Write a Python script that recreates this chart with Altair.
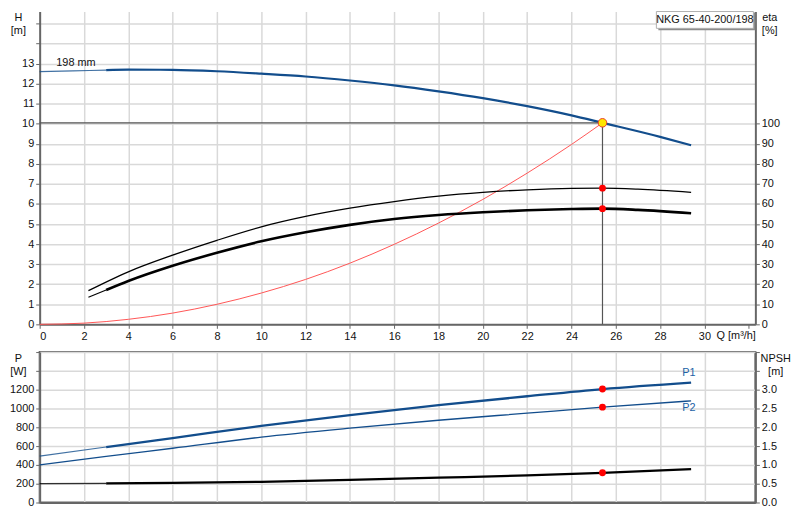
import altair as alt
import pandas as pd

# ---------------- data ----------------
Q_TICKS = list(range(0, 33, 2))
H_TICKS = list(range(0, 16))
ETA_TICKS = list(range(0, 101, 10))
P_TICKS = list(range(0, 1601, 200))
NPSH_TICKS = [0.0, 0.5, 1.0, 1.5, 2.0, 2.5, 3.0, 3.5, 4.0]

MODEL = "NKG 65-40-200/198"
IMPELLER = "198 mm"
IMPELLER_Q = 0.75
IMPELLER_H = 13.02
Q_UNIT = "Q [m³/h]"
Q_UNIT_Q = 30.55

H_Q = [0, 1.5, 3, 4, 6, 8, 10, 12, 14, 16, 18, 20, 22, 24, 25.4, 28, 29.4]
H_M = [12.6, 12.64, 12.68, 12.7, 12.69, 12.62, 12.5, 12.36, 12.16, 11.92,
       11.62, 11.28, 10.88, 10.42, 10.05, 9.35, 8.93]

SYS_Q = [0, 2, 4, 6, 8, 10, 12, 14, 16, 18, 20, 22, 24, 25.4]
SYS_H = [0, 0.06, 0.25, 0.56, 1.0, 1.56, 2.24, 3.05, 3.99, 5.05, 6.23, 7.54, 8.97, 10.05]

ETA1_Q = [2.2, 4, 6, 8, 10, 12, 14, 16, 18, 20, 22, 24, 25.4, 27, 29.4]
ETA1 = [16.8, 26.2, 34.5, 41.9, 48.6, 53.8, 57.9, 61.2, 63.9, 65.8, 67.1, 67.8, 67.9, 67.4, 65.8]

ETA2_Q = [2.2, 3, 4, 6, 8, 10, 12, 14, 16, 18, 20, 22, 24, 25.4, 27, 29.4]
ETA2 = [13.5, 17.1, 21.6, 29.2, 35.7, 41.4, 45.9, 49.6, 52.5, 54.5, 55.9, 56.9, 57.5, 57.7, 57.1, 55.4]

P_Q = [0, 3, 6, 10, 14, 18, 22, 25.4, 29.4]
P1_W = [493, 590, 685, 815, 930, 1035, 1130, 1207, 1276]
P2_W = [400, 490, 577, 695, 790, 875, 950, 1014, 1081]
NPSH_M = [0.5, 0.51, 0.52, 0.55, 0.6, 0.66, 0.72, 0.79, 0.89]

OP_Q = 25.4
OP_H = 10.05
OP_ETA = [67.9, 57.7]
OP_P = [1207, 1014]
OP_NPSH = 0.79

LABEL_P = ["P1", "P2"]
LABEL_P_Q = [29.3, 29.3]
LABEL_P_W = [1379, 1010]

CUT = 3  # where the thin start of each curve turns into the thick line

# ---------------- helpers ----------------
def frame(qs, vs, name):
    return pd.DataFrame({"Q": qs, name: vs})

def thin_part(qs, vs, name):
    return frame([q for q in qs if q <= CUT], [v for q, v in zip(qs, vs) if q <= CUT], name)

def thick_part(qs, vs, name):
    return frame([q for q in qs if q >= CUT], [v for q, v in zip(qs, vs) if q >= CUT], name)

W = 723
HT = 316
HB = 152
BLUE = "#124d8c"
FONT = "Liberation Sans"

xs = alt.Scale(domain=[0, 32.3], nice=False, zero=False)
grid_cond = {"condition": {"test": "datum.value == 32", "value": "transparent"}, "value": "#d9d9d9"}

x_top = alt.X("Q:Q", scale=xs, title=None,
              axis=alt.Axis(values=Q_TICKS, labelExpr="datum.value == 32 ? '' : datum.label",
                            gridColor=grid_cond, labelPadding=2, title=None))
x_bot = alt.X("Q:Q", scale=xs, title=None,
              axis=alt.Axis(values=Q_TICKS, labels=False, ticks=False, gridColor=grid_cond, title=None))

hs = alt.Scale(domain=[0, 15.6], nice=False, zero=False)
es = alt.Scale(domain=[0, 156], nice=False, zero=False)
ps = alt.Scale(domain=[0, 1600], nice=False, zero=False)
ns = alt.Scale(domain=[0, 4], nice=False, zero=False)

y_h = alt.Y("H:Q", scale=hs,
            axis=alt.Axis(values=H_TICKS, labelExpr="datum.value > 13 ? '' : datum.label",
                          title=["H", "[m]"], titleAngle=0, titleX=-22, titleY=0,
                          titleAlign="center", titleBaseline="top", minExtent=31))
y_e = alt.Y("E:Q", scale=es,
            axis=alt.Axis(orient="right", values=ETA_TICKS, grid=False,
                          title=["eta", "[%]"], titleAngle=0, titleX=14, titleY=0,
                          titleAlign="center", titleBaseline="top", minExtent=30))
y_p = alt.Y("P:Q", scale=ps,
            axis=alt.Axis(values=P_TICKS,
                          labelExpr="datum.value > 1200 ? '' : format(datum.value, 'd')",
                          title=["P", "[W]"], titleAngle=0, titleX=-22, titleY=1,
                          titleAlign="center", titleBaseline="top", minExtent=31))
y_n = alt.Y("N:Q", scale=ns,
            axis=alt.Axis(orient="right", values=NPSH_TICKS, grid=False,
                          labelExpr="datum.value > 3.01 ? '' : format(datum.value, '.1f')",
                          title=["NPSH", "[m]"], titleAngle=0, titleX=20, titleY=1,
                          titleAlign="center", titleBaseline="top", minExtent=30))

# ---------------- top panel: H and eta ----------------
h_thin = alt.Chart(thin_part(H_Q, H_M, "H")).mark_line(
    color=BLUE, strokeWidth=1.2, opacity=0.8, interpolate="monotone").encode(x=x_top, y=y_h)
h_thick = alt.Chart(thick_part(H_Q, H_M, "H")).mark_line(
    color=BLUE, strokeWidth=2.2, interpolate="monotone").encode(x=x_top, y=y_h)
sys_line = alt.Chart(frame(SYS_Q, SYS_H, "H")).mark_line(
    color="#ff5555", strokeWidth=1, interpolate="monotone").encode(x=x_top, y=y_h)
op_rules = alt.Chart(pd.DataFrame({"Q": [0, OP_Q], "Q2": [OP_Q, OP_Q],
                                   "H": [OP_H, 0], "H2": [OP_H, OP_H]})).mark_rule(
    color="#555555", strokeWidth=1.2).encode(x=x_top, x2="Q2:Q", y=y_h, y2="H2:Q")
op_point = alt.Chart(frame([OP_Q], [OP_H], "H")).mark_point(
    filled=True, fill="#ffe600", stroke="#e83a2a", strokeWidth=1, size=75, opacity=1).encode(x=x_top, y=y_h)
imp_text = alt.Chart(pd.DataFrame({"Q": [IMPELLER_Q], "H": [IMPELLER_H], "t": [IMPELLER]})).mark_text(
    align="left", baseline="middle", fontSize=11, color="#111").encode(x=x_top, y=y_h, text="t:N")
q_text = alt.Chart(pd.DataFrame({"Q": [Q_UNIT_Q], "t": [Q_UNIT]})).mark_text(
    align="left", baseline="middle", fontSize=11, color="#111").encode(
    x=x_top, y=alt.value(HT + 11.5), text="t:N")
box_shadow = alt.Chart(pd.DataFrame({"t": [MODEL]})).mark_rect(color="#8c8c8c").encode(
    x=alt.value(W - 98), x2=alt.value(W), y=alt.value(1), y2=alt.value(19))
box = alt.Chart(pd.DataFrame({"t": [MODEL]})).mark_rect(fill="white", stroke="#b0b0b0", strokeWidth=1).encode(
    x=alt.value(W - 100), x2=alt.value(W - 2), y=alt.value(0), y2=alt.value(17))
box_text = alt.Chart(pd.DataFrame({"t": [MODEL]})).mark_text(
    align="center", baseline="middle", fontSize=11, color="#111").encode(
    x=alt.value(W - 51), y=alt.value(9), text="t:N")

h_group = alt.layer(h_thin, h_thick, sys_line, op_rules, op_point, imp_text, q_text,
                    box_shadow, box, box_text)

eta1_line = alt.Chart(frame(ETA1_Q, ETA1, "E")).mark_line(
    color="#000", strokeWidth=1.3, interpolate="monotone").encode(x=x_top, y=y_e)
eta2_thin = alt.Chart(thin_part(ETA2_Q, ETA2, "E")).mark_line(
    color="#000", strokeWidth=1.2, interpolate="monotone").encode(x=x_top, y=y_e)
eta2_thick = alt.Chart(thick_part(ETA2_Q, ETA2, "E")).mark_line(
    color="#000", strokeWidth=2.6, interpolate="monotone").encode(x=x_top, y=y_e)
eta_pts = alt.Chart(frame([OP_Q, OP_Q], OP_ETA, "E")).mark_circle(
    color="#ff0000", size=48, opacity=1).encode(x=x_top, y=y_e)

e_group = alt.layer(eta1_line, eta2_thin, eta2_thick, eta_pts)

top = alt.layer(h_group, e_group).resolve_scale(y="independent").properties(width=W, height=HT)

# ---------------- bottom panel: P and NPSH ----------------
p1_thin = alt.Chart(thin_part(P_Q, P1_W, "P")).mark_line(
    color=BLUE, strokeWidth=1.2, opacity=0.8).encode(x=x_bot, y=y_p)
p1_thick = alt.Chart(thick_part(P_Q, P1_W, "P")).mark_line(
    color=BLUE, strokeWidth=2.3, interpolate="monotone").encode(x=x_bot, y=y_p)
p2_line = alt.Chart(frame(P_Q, P2_W, "P")).mark_line(
    color=BLUE, strokeWidth=1.3, interpolate="monotone").encode(x=x_bot, y=y_p)
p_pts = alt.Chart(frame([OP_Q, OP_Q], OP_P, "P")).mark_circle(
    color="#ff0000", size=48, opacity=1).encode(x=x_bot, y=y_p)
p_labels = alt.Chart(pd.DataFrame({"Q": LABEL_P_Q, "P": LABEL_P_W, "t": LABEL_P})).mark_text(
    align="center", baseline="middle", fontSize=11, color="#2262a6").encode(x=x_bot, y=y_p, text="t:N")

p_group = alt.layer(p1_thin, p1_thick, p2_line, p_pts, p_labels)

n_thin = alt.Chart(thin_part(P_Q, NPSH_M, "N")).mark_line(
    color="#000", strokeWidth=1.2, opacity=0.8).encode(x=x_bot, y=y_n)
n_thick = alt.Chart(thick_part(P_Q, NPSH_M, "N")).mark_line(
    color="#000", strokeWidth=2.3, interpolate="monotone").encode(x=x_bot, y=y_n)
n_pt = alt.Chart(frame([OP_Q], [OP_NPSH], "N")).mark_circle(
    color="#ff0000", size=48, opacity=1).encode(x=x_bot, y=y_n)

n_group = alt.layer(n_thin, n_thick, n_pt)

bottom = alt.layer(p_group, n_group).resolve_scale(y="independent").properties(
    width=W, height=HB, view=alt.ViewBackground(stroke="#666666", strokeWidth=2))

chart = alt.vconcat(top, bottom, spacing=8).properties(padding=0).configure(
    font=FONT
).configure_view(stroke="transparent").configure_axis(
    domainColor="#666666", domainWidth=2, tickColor="#666666", tickSize=4, tickWidth=1,
    labelFont=FONT, labelFontSize=11, labelColor="#111111",
    titleFont=FONT, titleFontSize=11, titleFontWeight="normal", titleColor="#111111",
    gridColor="#d9d9d9", gridWidth=1.5, labelPadding=2
)

chart.save("out.html", embed_options={"renderer": "svg", "actions": False})
